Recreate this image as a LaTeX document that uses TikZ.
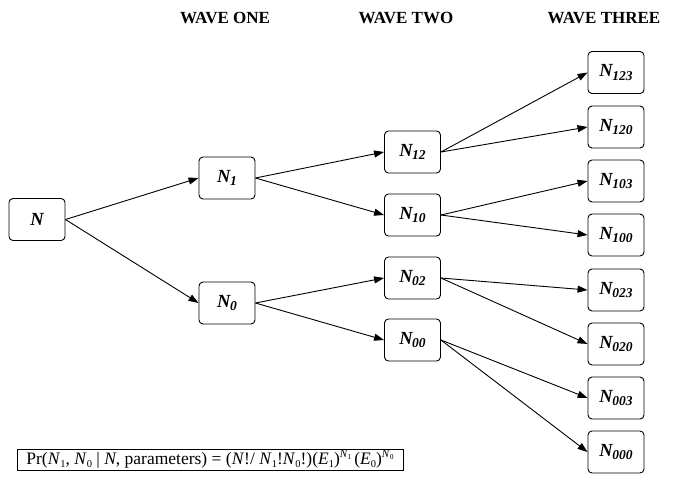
\documentclass[tikz,border=0pt]{standalone}
\usepackage{fontspec}
\setmainfont{Liberation Serif}
\usetikzlibrary{arrows.meta}
\begin{document}
\begin{tikzpicture}[x=1pt,y=-1pt,
  box/.style={draw, line width=0.9pt, rounded corners=4pt, minimum width=56pt, minimum height=42pt, inner sep=0pt, font=\fontsize{18.5}{21}\selectfont\bfseries\itshape},
  head/.style={font=\fontsize{17}{20}\selectfont\bfseries},
  arr/.style={line width=0.9pt, -{Triangle[length=10pt,width=7pt]}}]
\useasboundingbox (0,0) rectangle (685,488);
\newcommand{\lab}[1]{N\kern-0.5pt\raisebox{-3.5pt}{\fontsize{13.5}{15}\selectfont #1}}
\newcommand{\mysub}[1]{\raisebox{-2.5pt}{\fontsize{10.5}{12}\selectfont #1}}
\node[head] (h1) at (225,18) {WAVE ONE};
\node[head] (h2) at (406,18) {WAVE TWO};
\node[head] (h3) at (604,18) {WAVE THREE};
\node[box] (n) at (37,219.5) {N};
\node[box] (n1) at (227,178) {\lab{1}};
\node[box] (n0) at (227,303) {\lab{0}};
\node[box] (n12) at (412.5,152) {\lab{12}};
\node[box] (n10) at (412.5,215) {\lab{10}};
\node[box] (n02) at (412.5,278) {\lab{02}};
\node[box] (n00) at (412.5,340) {\lab{00}};
\node[box] (n123) at (616,72.5) {\lab{123}};
\node[box] (n120) at (616,127) {\lab{120}};
\node[box] (n103) at (616,181) {\lab{103}};
\node[box] (n100) at (616,235) {\lab{100}};
\node[box] (n023) at (616,290) {\lab{023}};
\node[box] (n020) at (616,344) {\lab{020}};
\node[box] (n003) at (616,398) {\lab{003}};
\node[box] (n000) at (616,452) {\lab{000}};
\foreach \a/\b in {n/n1,n/n0,n1/n12,n1/n10,n0/n02,n0/n00,n12/n123,n12/n120,n10/n103,n10/n100,n02/n023,n02/n020,n00/n003,n00/n000}
  \draw[arr] (\a.east) -- (\b.west);
\node[draw, line width=0.9pt, minimum width=386pt, minimum height=21pt, inner sep=0pt, font=\fontsize{17.5}{20}\selectfont] (f) at (210,459.5)
 {Pr(\textit{N}\mysub{1}, \textit{N}\mysub{0} | \textit{N}, parameters) = (\textit{N}!/ \textit{N}\mysub{1}!\textit{N}\mysub{0}!)(\textit{E}\mysub{1})\raisebox{7pt}{\fontsize{11}{12}\selectfont\textit{N}\raisebox{-2pt}{\fontsize{7.5}{8}\selectfont 1}}\,(\textit{E}\mysub{0})\raisebox{7pt}{\fontsize{11}{12}\selectfont\textit{N}\raisebox{-2pt}{\fontsize{7.5}{8}\selectfont 0}}};
\end{tikzpicture}
\end{document}
